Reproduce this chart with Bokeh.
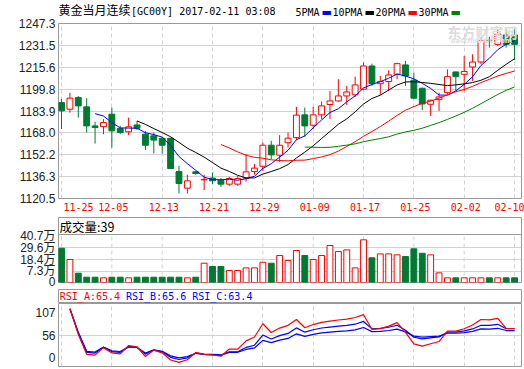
import numpy as np
from bokeh.plotting import figure
from bokeh.layouts import column
from bokeh.models import Range1d, FixedTicker, Label, ColumnDataSource, Grid, NumeralTickFormatter, Span
from bokeh.embed import file_html
from bokeh.resources import INLINE

# ---------------- data ----------------
TITLE_CN = "黄金当月连续"
TITLE_CODE = "[GC00Y] 2017-02-11 03:08"
MA_NAMES = ["5PMA", "10PMA", "20PMA", "30PMA"]
MA_PERIODS = [5, 10, 20, 30]
MA_COLORS = ["#0000ff", "#000000", "#ff0000", "#008000"]

DATE_LABELS = ["11-25", "12-05", "12-13", "12-21", "12-29", "01-09", "01-17", "01-25", "02-02", "02-10"]
DATE_TICK_INDEX = [0, 6, 12, 18, 24, 30, 36, 42, 48, 54]

OPEN = [1190.0, 1185.2, 1193.6, 1186.9, 1173.1, 1172.6, 1181.6, 1171.2, 1168.8, 1173.8,
        1167.1, 1165.9, 1164.1, 1164.1, 1140.0, 1128.0, 1139.8, 1134.0, 1135.3, 1133.8,
        1130.9, 1130.9, 1135.3, 1140.0, 1143.9, 1159.1, 1151.9, 1160.9, 1164.6, 1181.1,
        1173.6, 1181.1, 1188.6, 1191.2, 1194.8, 1195.6, 1199.7, 1216.5, 1203.7, 1205.2,
        1210.5, 1217.3, 1206.2, 1200.4, 1188.8, 1192.1, 1197.2, 1212.2, 1210.5, 1215.8,
        1219.4, 1235.2, 1232.2, 1239.0, 1239.0]
HIGH = [1192.7, 1197.2, 1194.8, 1193.2, 1176.2, 1178.0, 1186.4, 1173.1, 1179.1, 1176.7,
        1169.5, 1168.3, 1165.2, 1164.5, 1144.2, 1137.7, 1140.5, 1137.7, 1139.3, 1135.3,
        1136.2, 1136.7, 1152.6, 1145.4, 1161.0, 1162.3, 1166.4, 1168.3, 1186.9, 1186.4,
        1186.9, 1190.7, 1198.4, 1206.9, 1202.1, 1208.8, 1219.0, 1218.2, 1209.3, 1213.4,
        1218.9, 1220.2, 1211.7, 1200.8, 1192.0, 1197.2, 1214.1, 1212.5, 1223.8, 1225.0,
        1237.5, 1237.7, 1243.1, 1243.1, 1243.1]
LOW = [1170.9, 1182.7, 1179.1, 1168.3, 1160.3, 1167.1, 1157.4, 1167.1, 1166.4, 1170.2,
       1155.6, 1153.1, 1153.1, 1142.2, 1124.1, 1124.1, 1137.7, 1126.6, 1130.9, 1128.9,
       1129.7, 1129.7, 1132.8, 1137.7, 1140.5, 1149.0, 1147.0, 1157.4, 1162.8, 1165.2,
       1170.7, 1178.0, 1178.0, 1190.7, 1188.3, 1194.1, 1198.9, 1202.1, 1195.6, 1198.4,
       1207.0, 1202.1, 1192.4, 1184.5, 1180.4, 1183.9, 1196.0, 1198.5, 1198.5, 1205.7,
       1217.8, 1229.8, 1231.0, 1229.8, 1220.7]
CLOSE = [1184.0, 1193.2, 1187.6, 1173.1, 1171.9, 1175.5, 1169.5, 1168.3, 1172.4, 1171.4,
         1159.1, 1162.8, 1159.1, 1142.2, 1131.4, 1133.3, 1138.6, 1134.4, 1133.3, 1130.9,
         1135.0, 1135.0, 1139.8, 1142.5, 1159.1, 1152.1, 1159.1, 1164.2, 1180.9, 1173.1,
         1181.1, 1187.6, 1191.2, 1194.8, 1197.7, 1202.8, 1216.5, 1203.7, 1205.2, 1210.0,
         1218.2, 1209.3, 1193.2, 1189.0, 1191.7, 1194.1, 1208.8, 1208.8, 1212.5, 1219.4,
         1235.1, 1234.8, 1239.9, 1232.2, 1232.2]
# volume, in 万
VOLUME = [29.2, 18.6, 5.7, 1.9, 1.9, 1.3, 1.9, 1.9, 1.3, 1.9,
          1.9, 1.9, 1.9, 1.9, 1.9, 1.3, 1.9, 15.1, 12.0, 12.0,
          8.2, 8.2, 10.7, 10.7, 16.0, 15.1, 22.4, 17.6, 27.1, 22.4,
          18.6, 22.4, 31.8, 26.1, 27.7, 10.7, 37.2, 20.2, 23.9, 23.9,
          23.0, 21.4, 28.7, 24.5, 23.0, 6.0, 1.3, 1.3, 1.3, 1.3,
          1.3, 1.3, 1.3, 1.3, 1.3]

PRICE_TICKS = [1120.5, 1136.3, 1152.2, 1168.0, 1183.9, 1199.8, 1215.6, 1231.5, 1247.3]
VOL_TICKS = [7.3, 18.4, 29.6, 40.7]
VOL_TICK_LABELS = ["7.3万", "18.4万", "29.6万", "40.7万"]
VOL_TITLE = "成交量"
VOL_LAST = 39
RSI_NAMES = ["RSI_A", "RSI_B", "RSI_C"]
RSI_PERIODS = [6, 12, 24]
RSI_LAST = [65.4, 65.6, 63.4]
RSI_COLORS = ["#ff0000", "#0000ff", "#0000ff"]
RSI_MID = 56
RSI_TICK_LABELS = ["107", "56", "0"]

# ---------------- style ----------------
RED = "#ff0000"
GREEN = "#007a33"
FRAME = "#999999"
GRID = "#d2d2d2"
AXIS_FONT = "Liberation Sans, Noto Sans CJK SC"
MONO = "DejaVu Sans Mono"
CJK = "Noto Sans CJK SC"

W = 524
BORDER_L, BORDER_R = 58, 3
X_START, X_END = -0.36, 54.83
PX_PER_UNIT = (W - BORDER_L - BORDER_R) / (X_END - X_START)
xr = Range1d(X_START, X_END)

PRICE_RANGE = (1120.5, 1247.3)
VOL_RANGE = (-3.1, 42.2)          # bar area (48 px)
VOL_HEAD_PX, VOL_BAR_PX = 17, 48  # header strip sits inside the same frame
VOL_FIG_TOP = VOL_RANGE[1] + VOL_HEAD_PX * (VOL_RANGE[1] - VOL_RANGE[0]) / VOL_BAR_PX
RSI_RANGE = (4.9, 108.7)


def make_fig(height, top, bottom, y_range, y_axis=True, x_axis=False, outline=True):
    p = figure(width=W, height=height, x_range=xr, y_range=Range1d(*y_range),
               output_backend="svg", toolbar_location=None, tools="",
               x_axis_location="below" if x_axis else None,
               y_axis_location="left" if y_axis else None,
               min_border=0, min_border_left=BORDER_L, min_border_right=BORDER_R,
               min_border_top=top, min_border_bottom=bottom)
    p.center = []
    p.outline_line_color = FRAME if outline else None
    p.outline_line_width = 1
    p.background_fill_color = "white"
    p.border_fill_color = "white"
    for ax in (p.xaxis + p.yaxis):
        ax.axis_line_color = None
        ax.major_tick_line_color = None
        ax.minor_tick_line_color = None
        ax.major_tick_out = 0
        ax.major_tick_in = 0
    for ax in p.yaxis:
        ax.major_label_standoff = 3
        ax.major_label_text_font = AXIS_FONT
        ax.major_label_text_font_size = "12px"
        ax.major_label_text_color = "#222222"
    return p


def add_grids(p, yticks, vertical=True):
    if vertical:
        p.add_layout(Grid(dimension=0, ticker=FixedTicker(ticks=DATE_TICK_INDEX),
                          grid_line_color=GRID, grid_line_dash="4 3"), "center")
    if yticks:
        p.add_layout(Grid(dimension=1, ticker=FixedTicker(ticks=yticks),
                          grid_line_color=GRID), "center")


def label(p, x, y, text, color="#000000", font=MONO, size="10px", style="normal"):
    p.add_layout(Label(x=x, y=y, x_units="screen", y_units="screen", text=text,
                       text_color=color, text_font=font, text_font_size=size,
                       text_font_style=style, text_baseline="middle", text_align="left"))


idx = np.arange(len(CLOSE))
o = np.array(OPEN)
c = np.array(CLOSE)
up = c >= o
src = ColumnDataSource(dict(
    x=idx, high=HIGH, low=LOW, top=np.maximum(o, c), bot=np.minimum(o, c),
    color=np.where(up, RED, GREEN), fill=np.where(up, "white", GREEN),
    vol=VOLUME, vbot=[VOL_RANGE[0]] * len(VOLUME)))

# ---------------- title row ----------------
tf = make_fig(18, 0, 0, (0, 1), y_axis=False, outline=False)
label(tf, 0, 9, TITLE_CN, font=CJK, size="12px")
label(tf, 72.5, 7, TITLE_CODE, size="10px")
leg_x = [237, 274, 317, 360]
for name, col, lx in zip(MA_NAMES, MA_COLORS, leg_x):
    label(tf, lx, 6, name, size="10px")
    label(tf, lx + 6 * len(name) + 2, 6, "▬", color=col, font="DejaVu Sans", size="11px")

# ---------------- price panel ----------------
FH = 175  # price frame height (px)
pp = make_fig(198, 5, 18, PRICE_RANGE, y_axis=True, x_axis=True)
add_grids(pp, PRICE_TICKS)
pp.yaxis.ticker = FixedTicker(ticks=PRICE_TICKS)
pp.yaxis.formatter = NumeralTickFormatter(format="0.0")

label_pos = [i + 1.5 / PX_PER_UNIT for i in DATE_TICK_INDEX]
label_pos[0] = X_START + 20 / PX_PER_UNIT
pp.xaxis.ticker = FixedTicker(ticks=label_pos)
pp.xaxis.major_label_overrides = {pos: lab for pos, lab in zip(label_pos, DATE_LABELS)}
pp.xaxis.major_label_text_color = RED
pp.xaxis.major_label_text_font = MONO
pp.xaxis.major_label_text_font_size = "10px"
pp.xaxis.major_label_standoff = 4

label(pp, 389, FH - 8, "东方财富网", color="#dcdcdc", font=CJK, size="14px", style="bold")
label(pp, 392, FH - 17, "eastmoney.com", color="#e2e2e2", font="DejaVu Sans", size="7px", style="bold")

pp.segment(x0="x", y0="low", x1="x", y1="high", line_color="color", line_width=1, source=src)
pp.vbar(x="x", width=0.7, top="top", bottom="bot", fill_color="fill", line_color="color",
        line_width=1, source=src)


def sma(arr, n):
    out = np.full(len(arr), np.nan)
    for i in range(n - 1, len(arr)):
        out[i] = np.mean(arr[i - n + 1:i + 1])
    return out


for n, col in zip(MA_PERIODS, MA_COLORS):
    pp.line(idx, sma(c, n), line_color=col, line_width=1)

# ---------------- volume panel (with header strip) ----------------
pv = make_fig(72, 1, 6, (VOL_RANGE[0], VOL_FIG_TOP))
add_grids(pv, [t for t in VOL_TICKS if t < VOL_RANGE[1] - 3], vertical=False)
pv.segment(x0=DATE_TICK_INDEX, x1=DATE_TICK_INDEX,
           y0=[VOL_RANGE[0]] * len(DATE_TICK_INDEX), y1=[VOL_RANGE[1]] * len(DATE_TICK_INDEX),
           line_color=GRID, line_dash="4 3", line_width=1)
pv.add_layout(Span(location=VOL_RANGE[1], dimension="width", line_color=FRAME, line_width=1))
vticks = [VOL_RANGE[0]] + VOL_TICKS
pv.yaxis.ticker = FixedTicker(ticks=vticks)
pv.yaxis.major_label_overrides = dict(zip(vticks, ["0"] + VOL_TICK_LABELS))
pv.vbar(x="x", width=0.7, top="vol", bottom="vbot", fill_color="fill", line_color="color",
        line_width=1, source=src)
label(pv, 1, VOL_BAR_PX + VOL_HEAD_PX / 2, f"{VOL_TITLE}:{VOL_LAST}", font=CJK, size="12.5px")

# ---------------- RSI header ----------------
rh = make_fig(15, 1, 0, (0, 1), y_axis=False)
for k, (nm, val, col) in enumerate(zip(RSI_NAMES, RSI_LAST, RSI_COLORS)):
    label(rh, 1.3 + 66.2 * k, 7, f"{nm}:{val}", color=col, size="10px")

# ---------------- RSI panel ----------------
pr = make_fig(66, 0, 3, RSI_RANGE)
add_grids(pr, [RSI_MID])
inset = 8.7 * (RSI_RANGE[1] - RSI_RANGE[0]) / 63
rticks = [RSI_RANGE[1] - inset, RSI_MID, RSI_RANGE[0] + inset]
pr.yaxis.ticker = FixedTicker(ticks=rticks)
pr.yaxis.major_label_overrides = dict(zip(rticks, RSI_TICK_LABELS))


def rsi(close, n):
    diff = np.diff(close, prepend=close[0])
    upm = np.maximum(diff, 0)
    absm = np.abs(diff)
    su = sa = 0.0
    out = []
    for u, a in zip(upm, absm):
        su = (u + (n - 1) * su) / n
        sa = (a + (n - 1) * sa) / n
        out.append(100 * su / sa if sa > 0 else np.nan)
    return np.array(out)


for n, col in reversed(list(zip(RSI_PERIODS, RSI_COLORS))):
    pr.line(idx, rsi(c, n), line_color=col, line_width=1.2)

layout = column(tf, pp, pv, rh, pr, spacing=0)
open("out.html", "w").write(file_html(layout, INLINE))
